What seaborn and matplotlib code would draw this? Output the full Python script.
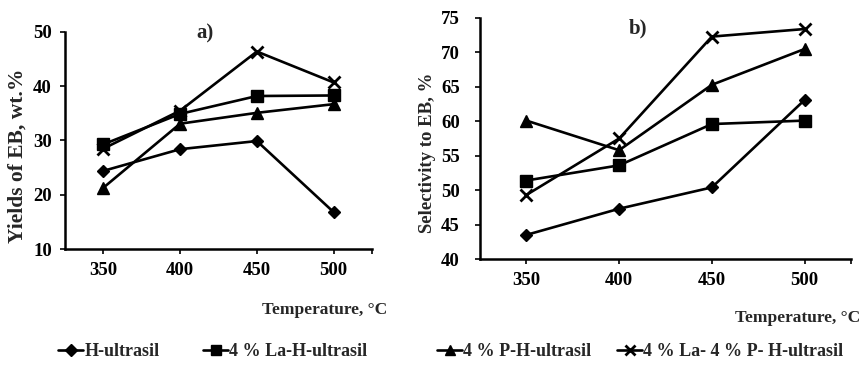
import matplotlib
matplotlib.use("Agg")
import matplotlib.pyplot as plt
import seaborn as sns
import pandas as pd

# Reaction temperatures, °C
temperatures = [350, 400, 450, 500]

catalysts = ["H-ultrasil", "4 % La-H-ultrasil", "4 % P-H-ultrasil",
             "4 % La- 4 % P- H-ultrasil"]

# a) Yields of ethylbenzene, wt.%
yield_h = [24.4, 28.4, 29.9, 16.8]
yield_la = [29.3, 34.9, 38.2, 38.3]
yield_p = [21.3, 33.1, 35.1, 36.7]
yield_la_p = [28.5, 35.5, 46.4, 40.7]

# b) Selectivity to ethylbenzene, %
sel_h = [43.5, 47.3, 50.4, 63.1]
sel_la = [51.4, 53.6, 59.6, 60.1]
sel_p = [60.1, 55.8, 65.3, 70.5]
sel_la_p = [49.3, 57.5, 72.3, 73.4]

yields = [yield_h, yield_la, yield_p, yield_la_p]
selectivities = [sel_h, sel_la, sel_p, sel_la_p]


def long_table(series):
    rows = []
    for name, values in zip(catalysts, series):
        for t, v in zip(temperatures, values):
            rows.append({"Temperature": t, "Value": v, "Catalyst": name})
    return pd.DataFrame(rows)


sns.set_theme(style="white")
plt.rcParams["font.family"] = ["Liberation Serif", "DejaVu Serif"]
plt.rcParams["font.weight"] = "bold"

fig = plt.figure(figsize=(8.66, 3.69), dpi=100)
W, H = 866, 369


def axes_px(x0, x1, top, bottom):
    return fig.add_axes([x0 / W, 1 - bottom / H, (x1 - x0) / W, (bottom - top) / H])


ax_a = axes_px(65, 372, 32, 249)
ax_b = axes_px(480, 851, 18, 259)

# seaborn needs all-filled markers; the cross is switched to a line-art "x" afterwards
marker_map = {catalysts[0]: "D", catalysts[1]: "s", catalysts[2]: "^", catalysts[3]: "X"}
final_marker = {"D": "D", "s": "s", "^": "^", "X": "x"}
sizes = {"D": 6.5, "s": 8, "^": 8.5, "x": 8}

for ax, series in ((ax_a, yields), (ax_b, selectivities)):
    df = long_table(series)
    sns.lineplot(data=df, x="Temperature", y="Value", hue="Catalyst",
                 style="Catalyst", markers=marker_map, dashes=False,
                 palette=["black"] * 4, legend=False, sort=False, ax=ax,
                 linewidth=1.9, markeredgecolor="black")
    for line, name in zip(ax.get_lines(), catalysts):
        m = final_marker[marker_map[name]]
        line.set_marker(m)
        line.set_markersize(sizes[m])
        line.set_markeredgewidth(2.0 if m == "x" else 1.0)
        line.set_markerfacecolor("black")
        line.set_markeredgecolor("black")
        line.set_label(name)
    ax.set_xlim(325, 525)
    ax.set_xticks(temperatures)
    ax.set_xticks([525], minor=True)
    ax.set_xlabel("")
    ax.set_ylabel("")
    for side in ("top", "right"):
        ax.spines[side].set_visible(False)
    for side in ("left", "bottom"):
        ax.spines[side].set_color("black")
        ax.spines[side].set_linewidth(1.8)
    ax.tick_params(which="both", direction="out", length=3.5, width=1.2,
                   color="black", bottom=True, left=True, labelsize=13.5,
                   labelcolor="black", pad=6)
    for lbl in ax.get_xticklabels() + ax.get_yticklabels():
        lbl.set_fontweight("bold")

ax_a.set_ylim(10, 50)
ax_a.set_yticks([10, 20, 30, 40, 50])
ax_b.set_ylim(40, 75)
ax_b.set_yticks([40, 45, 50, 55, 60, 65, 70, 75])
ax_b.tick_params(axis="y", pad=11)

# panel labels
fig.text(205 / W, 1 - 33 / H, "a)", ha="center", va="center", fontsize=15, fontweight="bold")
fig.text(638 / W, 1 - 28 / H, "b)", ha="center", va="center", fontsize=15, fontweight="bold")

# axis titles
fig.text(18 / W, 1 - 156 / H, "Yields of EB, wt.%", rotation=90, ha="center",
         va="center", fontsize=15.5, fontweight="bold")
fig.text(428 / W, 1 - 153 / H, "Selectivity to EB, %", rotation=90, ha="center",
         va="center", fontsize=13.5, fontweight="bold")
fig.text(325 / W, 1 - 310 / H, "Temperature, °C", ha="center", va="center",
         fontsize=12.5, fontweight="bold")
fig.text(798 / W, 1 - 318 / H, "Temperature, °C", ha="center", va="center",
         fontsize=12.5, fontweight="bold")

# legend entries along the bottom
handles = ax_a.get_lines()
starts = [58, 203, 437, 617]
for h, name, x0 in zip(handles, catalysts, starts):
    fig.legend([h], [name], loc="center left", bbox_to_anchor=(x0 / W, 1 - 352 / H),
               frameon=False, borderpad=0, borderaxespad=0, handlelength=1.4,
               handletextpad=0.05, markerscale=0.9,
               prop={"family": "Liberation Serif", "weight": "bold", "size": 13})

fig.savefig("out.png", dpi=100)
